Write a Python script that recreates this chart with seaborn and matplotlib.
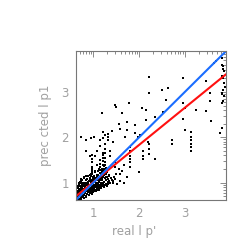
import matplotlib
matplotlib.use("Agg")
import matplotlib.pyplot as plt
import seaborn as sns
import numpy as np
import pandas as pd
from matplotlib.ticker import FixedLocator

# ---- data ----
real_x = [
    # dense low-left cluster
    0.64, 0.65, 0.66, 0.66, 0.67, 0.68, 0.68, 0.69, 0.70, 0.70, 0.71, 0.72, 0.72, 0.73, 0.74, 0.74,
    0.75, 0.76, 0.76, 0.77, 0.78, 0.78, 0.79, 0.80, 0.80, 0.81, 0.82, 0.82, 0.83, 0.84, 0.84, 0.85,
    0.86, 0.86, 0.87, 0.88, 0.88, 0.89, 0.90, 0.90, 0.91, 0.92, 0.92, 0.93, 0.94, 0.94, 0.95, 0.95,
    0.96, 0.97, 0.97, 0.98, 0.98, 0.98, 0.99, 1.00, 1.00, 1.01, 1.02, 1.02, 1.03, 1.04, 1.04, 1.05,
    1.06, 1.06, 1.07, 1.08, 1.08, 1.09, 1.10, 1.10, 1.11, 1.12, 1.12, 1.13, 1.14, 1.14, 1.15, 1.15,
    1.15, 1.16, 1.17, 1.17, 1.18, 1.19, 1.20, 1.20, 1.21, 1.22, 1.22, 1.22, 1.23, 1.23, 1.24, 1.25,
    1.25, 1.26, 1.26, 1.26, 1.27, 1.28, 1.29, 1.30, 1.31, 1.32, 1.33, 1.34, 1.35, 1.36, 1.38, 1.40,
    1.42, 1.45, 1.47,
    0.65, 0.67, 0.69, 0.71, 0.73, 0.75, 0.77, 0.79, 0.81, 0.83, 0.85, 0.87, 0.89, 0.91, 0.93, 0.95,
    0.97, 0.99, 1.01, 1.03, 1.05, 1.07, 1.09, 1.11, 1.13, 1.16, 1.18, 1.21, 1.24, 1.27, 1.30, 1.33,
    0.66, 0.70, 0.74, 0.78, 0.82, 0.86, 0.90, 0.94, 0.98, 1.02, 1.06, 1.10, 1.14, 1.18, 1.22, 1.26,
    0.98, 0.98, 0.98, 1.15, 1.15, 1.15, 1.22, 1.22, 1.26, 1.26, 1.26,
    0.64, 0.66, 0.68, 0.70, 0.72, 0.74, 0.76, 0.78, 0.80, 0.82, 0.84, 0.86, 0.88, 0.90, 0.92, 0.94,
    0.96, 0.98, 1.00, 1.02, 1.04, 1.06, 1.08, 1.10, 1.12, 1.14, 1.16, 1.18, 1.20, 1.24, 1.28, 1.32,
    0.65, 0.69, 0.73, 0.77, 0.81, 0.85, 0.89, 0.93, 0.97, 1.01, 1.05, 1.09, 1.13, 1.17, 1.21, 1.25,
    0.67, 0.71, 0.75, 0.79, 0.83, 0.87, 0.91, 0.95, 0.99, 1.03, 1.07, 1.11, 1.19, 1.23, 1.29, 1.34,
    0.68, 0.72, 0.76, 0.80, 0.84, 0.88, 0.92, 0.96, 1.00, 1.04, 1.08, 1.12, 1.16, 1.20, 1.24, 1.28,
    # middle band
    1.80, 1.81, 1.81, 1.81, 1.81, 1.81, 2.09, 2.09, 2.09, 2.22, 2.22, 2.22, 2.35, 1.99, 1.74, 1.59,
    1.59, 1.48, 1.48, 1.37, 1.37, 1.33, 1.33, 1.33, 1.26, 1.22, 1.21, 1.41, 1.43, 1.57, 1.59, 1.74,
    1.74, 1.90, 1.92, 1.97, 1.70, 1.15, 1.14, 1.08, 1.04, 0.93, 0.83, 1.01, 2.02, 2.20, 1.52, 1.66,
    1.44, 0.73, 0.84, 0.85, 0.95, 1.55, 1.62, 1.68, 1.50,
    # upper scattered
    1.19, 1.48, 1.50, 1.77, 1.62, 2.06, 2.15, 2.22, 2.22, 2.49, 2.64, 2.59, 2.35, 2.53, 2.15,
    2.96, 2.96, 3.00, 2.96, 3.00, 3.14, 3.14, 3.14, 3.14, 3.14, 3.14, 2.71, 2.71, 3.25, 3.46,
    3.47, 3.54, 3.54, 3.58, 3.80, 3.76, 3.80,
    3.80, 3.82, 3.84, 3.86, 3.80, 3.83, 3.85, 3.87, 3.82, 3.86, 3.84, 3.63, 3.69, 3.84, 3.83, 3.81,
]
pred_y = [
    0.68, 0.75, 0.82, 0.90, 0.70, 0.78, 0.95, 0.86, 0.72, 1.02, 0.80, 0.66, 0.91, 0.84, 0.75, 1.08,
    0.96, 0.70, 0.88, 0.79, 1.00, 0.92, 0.73, 0.85, 1.12, 0.97, 0.78, 0.90, 1.05, 0.82, 0.68, 0.94,
    1.00, 0.76, 0.88, 1.15, 0.83, 0.96, 0.72, 1.04, 0.89, 0.80, 1.10, 0.95, 0.86, 1.20, 0.77, 1.02,
    0.92, 1.30, 0.84, 1.00, 1.45, 1.60, 0.90, 1.08, 0.80, 0.96, 1.15, 0.87, 1.02, 0.93, 1.25, 0.83,
    1.05, 0.97, 1.12, 0.90, 1.40, 1.00, 1.18, 0.86, 1.06, 0.95, 1.30, 1.02, 0.92, 1.22, 1.10, 1.35,
    1.50, 1.00, 0.90, 1.15, 1.05, 0.97, 1.25, 1.08, 0.93, 1.40, 1.55, 1.65, 1.02, 1.18, 1.30, 0.96,
    1.10, 1.45, 1.75, 1.85, 1.05, 1.20, 0.95, 1.12, 1.02, 1.08, 0.97, 1.15, 1.04, 0.99, 1.10, 1.06,
    1.00, 1.12, 1.08,
    0.88, 0.64, 0.98, 0.87, 0.69, 0.83, 0.94, 0.67, 0.88, 0.99, 0.86, 0.74, 0.99, 0.83, 1.05, 0.88,
    0.79, 1.12, 0.91, 0.81, 1.10, 0.94, 0.85, 1.00, 0.88, 1.12, 0.94, 1.00, 0.90, 1.12, 0.93, 1.00,
    0.78, 0.92, 0.99, 0.86, 0.96, 1.08, 0.95, 1.14, 1.20, 1.09, 0.99, 1.25, 1.05, 1.28, 1.20, 1.30,
    1.35, 1.25, 1.52, 1.22, 1.28, 1.42, 1.48, 1.60, 1.55, 1.65, 1.38,
    0.62, 0.66, 0.63, 0.71, 0.65, 0.69, 0.74, 0.68, 0.72, 0.77, 0.70, 0.75, 0.80, 0.73, 0.78, 0.83,
    0.76, 0.86, 0.79, 0.84, 0.90, 0.82, 0.87, 0.93, 0.85, 0.96, 0.89, 0.99, 0.92, 0.95, 0.98, 1.02,
    0.93, 0.97, 1.04, 0.95, 1.00, 1.07, 0.99, 1.10, 1.03, 1.13, 1.07, 1.16, 1.09, 1.18, 1.12, 1.20,
    0.81, 0.85, 0.90, 0.93, 0.97, 0.99, 1.03, 1.06, 1.11, 1.09, 1.14, 1.17, 1.22, 1.26, 1.24, 1.18,
    1.00, 1.04, 1.07, 1.10, 1.14, 1.01, 1.17, 1.21, 1.06, 1.23, 1.13, 1.27, 1.19, 1.31, 1.36, 1.33,
    1.78, 1.70, 1.59, 1.52, 1.45, 1.35, 1.70, 1.59, 1.52, 1.85, 1.74, 1.63, 1.52, 1.23, 1.12, 1.19,
    1.04, 1.45, 1.35, 1.59, 1.70, 1.93, 2.00, 2.08, 2.05, 2.12, 1.98, 2.14, 1.90, 2.29, 2.18, 2.33,
    2.17, 2.27, 2.10, 2.00, 2.00, 1.93, 1.81, 1.70, 1.59, 1.59, 1.70, 2.00, 2.04, 1.90, 0.97, 1.00,
    1.04, 2.00, 1.95, 1.93, 1.98, 1.30, 1.25, 1.40, 1.20,
    2.54, 2.71, 2.67, 2.75, 2.53, 2.64, 2.60, 3.33, 2.98, 3.04, 3.08, 2.82, 2.45, 2.56, 2.38,
    3.30, 2.75, 2.64, 2.41, 2.17, 2.12, 2.00, 1.93, 1.85, 1.78, 1.70, 1.93, 1.85, 2.60, 3.25,
    2.59, 2.97, 2.79, 2.36, 2.75, 2.10, 2.20,
    3.75, 3.60, 3.50, 3.45, 3.35, 3.30, 3.20, 3.10, 2.95, 2.90, 2.80, 3.64, 3.67, 3.56, 3.04, 2.97,
]

# reference lines: identity (blue) and fit (red)
line_x = [0.6, 3.9]
ident_y = [0.6, 3.9]
fit_y = [0.685, 3.39]

x_label = "real l p'"
y_label = "prec cted l p1"
major_ticks = [1, 2, 3]
tick_labels = ["1", "2", "3"]

df = pd.DataFrame({"real": real_x, "pred": pred_y})

sns.set_style("white")
plt.rcParams["font.family"] = ["DejaVu Sans"]

fig = plt.figure(figsize=(2.49, 2.49), dpi=100)
ax = fig.add_axes([0.305, 0.197, 0.603, 0.598])

sns.scatterplot(data=df, x="real", y="pred", ax=ax, color="black", marker="s",
                s=3.5, linewidth=0, legend=False)
sns.lineplot(x=line_x, y=fit_y, ax=ax, color="#ff1010", linewidth=1.5)
sns.lineplot(x=line_x, y=ident_y, ax=ax, color="#1a6dff", linewidth=1.5)

lims = (0.62, 3.9)
ax.set_xlim(lims)
ax.set_ylim(lims)

minor = [np.log10(k) + n for n in range(0, 4) for k in range(2, 10)]
minor = [m for m in minor if lims[0] < m < lims[1]]
for axis in (ax.xaxis, ax.yaxis):
    axis.set_major_locator(FixedLocator(major_ticks))
    axis.set_minor_locator(FixedLocator(minor))
ax.set_xticklabels(tick_labels)
ax.set_yticklabels(tick_labels)

gray = "#a0a0a0"
ax.tick_params(which="both", direction="in", top=True, right=True,
               color="#777777", width=0.6, labelcolor=gray, labelsize=8.5)
ax.tick_params(which="major", length=4, pad=5)
ax.tick_params(which="minor", length=2)
for s in ax.spines.values():
    s.set_color("#777777")
    s.set_linewidth(0.8)

ax.set_xlabel(x_label, color=gray, fontsize=8.5)
ax.set_ylabel(y_label, color=gray, fontsize=8.5)
ax.xaxis.set_label_coords(0.39, -0.165)
ax.yaxis.set_label_coords(-0.16, 0.5)

fig.savefig("out.png", dpi=100)
